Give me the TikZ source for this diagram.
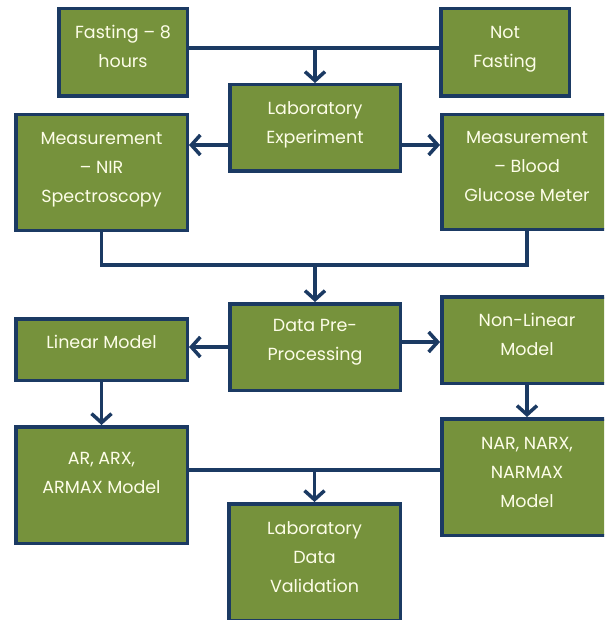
\documentclass[tikz,border=0pt]{standalone}
\usepackage{fontspec}
\setmainfont{Poppins}
\usetikzlibrary{arrows.meta}
\definecolor{boxfill}{HTML}{76923C}
\definecolor{navy}{HTML}{1B3A63}
\definecolor{cream}{HTML}{FDFDE8}
\newcommand{\bxt}[4]{\parbox[c][#2pt][t]{#1pt}{\centering\fontsize{17.5}{29}\selectfont\rule{0pt}{#3pt}#4}}
\tikzset{
  box/.style={draw=navy, fill=boxfill, line width=3.5pt, inner sep=0pt, text=cream},
  conn/.style={draw=navy, line width=3.5pt},
  arr/.style={conn, -{Straight Barb[length=9pt,width=20pt]}}
}
\begin{document}
\begin{tikzpicture}[x=1pt,y=-1pt]
\clip (0,0) rectangle (604,620);
\fill[white] (0,0) rectangle (604,620);
\node[box] (fast) at (123,52.5) {\bxt{128.5}{87.5}{30}{Fasting – 8\\hours}};
\node[box] (notfast) at (505,52.5) {\bxt{128.5}{87.5}{30}{Not\\Fasting}};
\node[box] (lab) at (315,128) {\bxt{170.5}{86.5}{30}{Laboratory\\Experiment}};
\node[box] (nir) at (101.5,172.5) {\bxt{171.5}{115.5}{30}{Measurement\\– NIR\\Spectroscopy}};
\node[box] (bgm) at (527,172) {\bxt{170.5}{114.5}{29}{Measurement\\– Blood\\Glucose Meter}};
\node[box] (data) at (315,347) {\bxt{170.5}{86.5}{28}{Data Pre-\\Processing}};
\node[box] (lin) at (101.5,349.5) {\bxt{171.5}{61.5}{30}{Linear Model}};
\node[box] (nonlin) at (527,340) {\bxt{170.5}{86.5}{30}{Non-Linear\\Model}};
\node[box] (ar) at (101.5,485) {\bxt{171.5}{116.5}{38}{AR, ARX,\\ARMAX Model}};
\node[box] (nar) at (527,477) {\bxt{170.5}{116.5}{31}{NAR, NARX,\\NARMAX\\Model}};
\node[box] (val) at (314.5,562) {\bxt{171.5}{116.5}{31}{Laboratory\\Data\\Validation}};
% connector reference points
\coordinate (j1) at (315,48);
\coordinate (y2) at (0,145);
\coordinate (y3) at (0,265);
\coordinate (j3) at (315,265);
\coordinate (y4) at (0,347);
\coordinate (y5) at (0,342);
\coordinate (j6) at (314.5,470);
\draw[conn] (fast.east |- j1) -- (notfast.west |- j1);
\draw[arr] (j1) -- (lab.north);
\draw[arr] (lab.west |- y2) -- (nir.east |- y2);
\draw[arr] (lab.east |- y2) -- (bgm.west |- y2);
\draw[conn] (nir.south) -- (nir.south |- y3) -- (bgm.south |- y3) -- (bgm.south);
\draw[arr] (j3) -- (data.north);
\draw[arr] (data.west |- y4) -- (lin.east |- y4);
\draw[arr] (data.east |- y5) -- (nonlin.west |- y5);
\draw[arr] (lin.south) -- (ar.north);
\draw[arr] (nonlin.south) -- (nar.north);
\draw[conn] (ar.east |- j6) -- (nar.west |- j6);
\draw[arr] (j6) -- (val.north);
\end{tikzpicture}
\end{document}
